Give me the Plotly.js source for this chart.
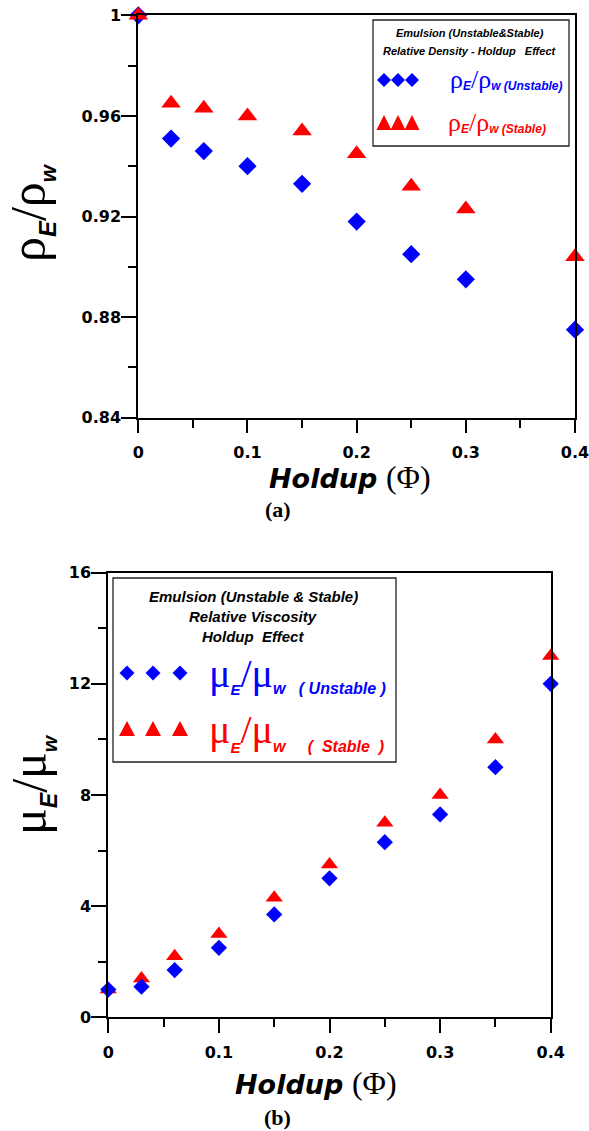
<!DOCTYPE html>
<html>
<head>
<meta charset="utf-8">
<script src="https://cdn.plot.ly/plotly-3.0.1.min.js"></script>
<style>html,body{margin:0;padding:0;background:#fff;}</style>
</head>
<body>
<div id="chart" style="width:589px;height:1131px;"></div>
<script>
// ---------- data ----------
const holdupDensity = [0, 0.03, 0.06, 0.1, 0.15, 0.2, 0.25, 0.3, 0.4];
const densityUnstable = [1.0, 0.951, 0.946, 0.940, 0.933, 0.918, 0.905, 0.895, 0.875];
const densityStable = [1.0, 0.965, 0.963, 0.960, 0.954, 0.945, 0.932, 0.923, 0.904];

const holdupViscosity = [0, 0.03, 0.06, 0.1, 0.15, 0.2, 0.25, 0.3, 0.35, 0.4];
const viscosityUnstable = [1.0, 1.1, 1.7, 2.5, 3.7, 5.0, 6.3, 7.3, 9.0, 12.0];
const viscosityStable = [1.0, 1.4, 2.2, 3.0, 4.3, 5.5, 7.0, 8.0, 10.0, 13.0];

const xTickVals = [0, 0.1, 0.2, 0.3, 0.4];
const xTickText = ['0', '0.1', '0.2', '0.3', '0.4'];
const xMinorVals = [0.05, 0.15, 0.25, 0.35];
const densityTickVals = [0.84, 0.88, 0.92, 0.96, 1];
const densityTickText = ['0.84', '0.88', '0.92', '0.96', '1'];
const densityMinorVals = [0.86, 0.90, 0.94, 0.98];
const viscosityTickVals = [0, 4, 8, 12, 16];
const viscosityTickText = ['0', '4', '8', '12', '16'];
const viscosityMinorVals = [2, 6, 10, 14];

// ---------- helpers ----------
const W = 589, H = 1131;
const px = x => x / W;
const py = y => 1 - y / H;
const BLUE = '#0000FF', RED = '#FF0000';
const EPS = 1e-6;

function axisBase(extra) {
  return Object.assign({
    showline: true, linewidth: 2, linecolor: '#000', mirror: true,
    showgrid: false, zeroline: false,
    ticks: 'outside', tickwidth: 2, tickcolor: '#000',
    tickfont: {family: 'DejaVu Sans', size: 16, color: '#000', weight: 'bold'},
    tickmode: 'array', fixedrange: true, ticklabeloverflow: 'allow'
  }, extra);
}
const minorTicks = vals => ({tickmode: 'array', tickvals: vals, ticks: 'outside', ticklen: 8, tickwidth: 2, tickcolor: '#000'});

const traces = [
  {x: holdupDensity, y: densityUnstable, xaxis: 'x', yaxis: 'y', type: 'scatter', mode: 'markers',
   name: 'ρE/ρw (Unstable)', cliponaxis: false,
   marker: {symbol: 'diamond', size: 14, color: BLUE}},
  {x: holdupDensity, y: densityStable, xaxis: 'x', yaxis: 'y', type: 'scatter', mode: 'markers',
   name: 'ρE/ρw (Stable)', cliponaxis: false,
   marker: {symbol: 'triangle-up', size: 17, color: RED}},
  {x: holdupViscosity, y: viscosityStable, xaxis: 'x2', yaxis: 'y2', type: 'scatter', mode: 'markers',
   name: 'μE/μw (Stable)', cliponaxis: false,
   marker: {symbol: 'triangle-up', size: 15, color: RED}},
  {x: holdupViscosity, y: viscosityUnstable, xaxis: 'x2', yaxis: 'y2', type: 'scatter', mode: 'markers',
   name: 'μE/μw (Unstable)', cliponaxis: false,
   marker: {symbol: 'diamond', size: 12.5, color: BLUE}}
];

// legend marker shapes (paper coordinates from pixel positions)
function diamondPath(cx, cy, h) {
  return 'M' + px(cx - h) + ',' + py(cy) + ' L' + px(cx) + ',' + py(cy - h) + ' L' + px(cx + h) + ',' + py(cy) +
         ' L' + px(cx) + ',' + py(cy + h) + ' Z';
}
function trianglePath(cx, cy, hw, up, down) {
  return 'M' + px(cx) + ',' + py(cy - up) + ' L' + px(cx + hw) + ',' + py(cy + down) + ' L' + px(cx - hw) + ',' + py(cy + down) + ' Z';
}
const shapes = [];
function rectPx(x0, y0, x1, y1) {
  shapes.push({type: 'rect', xref: 'paper', yref: 'paper', x0: px(x0), x1: px(x1), y0: py(y1), y1: py(y0),
               line: {color: '#222', width: 1.3}, fillcolor: '#fff', layer: 'above'});
}
rectPx(373, 20, 569, 146);
rectPx(113, 578, 396, 762);
[384, 398, 412].forEach(cx => {
  shapes.push({type: 'path', xref: 'paper', yref: 'paper', path: diamondPath(cx, 80, 7), fillcolor: BLUE, line: {width: 0}});
  shapes.push({type: 'path', xref: 'paper', yref: 'paper', path: trianglePath(cx, 125, 7.5, 10, 5), fillcolor: RED, line: {width: 0}});
});
[127, 153, 180].forEach(cx => {
  shapes.push({type: 'path', xref: 'paper', yref: 'paper', path: diamondPath(cx, 673, 7.5), fillcolor: BLUE, line: {width: 0}});
  shapes.push({type: 'path', xref: 'paper', yref: 'paper', path: trianglePath(cx, 731, 8, 10, 5), fillcolor: RED, line: {width: 0}});
});

const SANS_BI = 'font-family:Liberation Sans;font-weight:bold;font-style:italic';
const low = (txt, size, shift) => '<span style="' + SANS_BI + ';font-size:' + size + 'px;baseline-shift:-' + shift + 'px">' + txt + '</span>';
const annotations = [];
function ann(text, x, y, o) {
  annotations.push(Object.assign({
    text: text, x: px(x), y: py(y), xref: 'paper', yref: 'paper', showarrow: false,
    xanchor: 'center', yanchor: 'middle'
  }, o || {}));
}
const legTitleFont = s => ({family: 'Liberation Sans', size: s, color: '#000', weight: 'bold', style: 'italic'});

// top legend
ann('Emulsion (Unstable&amp;Stable)', 470, 33, {font: legTitleFont(11)});
ann('Relative Density - Holdup\u00a0\u00a0\u00a0Effect', 470, 51, {font: legTitleFont(11)});
ann('ρ' + low('E', 12, 2) + '/ρ' + low('w (Unstable)', 12, 2),
    448, 80, {xanchor: 'left', font: {family: 'Liberation Serif', size: 26, color: BLUE}});
ann('ρ' + low('E', 12, 2) + '/ρ' + low('w (Stable)', 12, 2),
    446, 123, {xanchor: 'left', font: {family: 'Liberation Serif', size: 26, color: RED}});

// bottom legend
ann('Emulsion (Unstable &amp; Stable)', 253, 596, {font: legTitleFont(15)});
ann('Relative Viscosity', 253, 616, {font: legTitleFont(15)});
ann('Holdup\u00a0\u00a0Effect', 253, 636, {font: legTitleFont(15)});
ann('μ' + low('E', 15, 8) + '/μ' + low('w\u00a0\u00a0\u00a0( Unstable )', 16, 7),
    207, 674, {xanchor: 'left', font: {family: 'Liberation Serif', size: 40, color: BLUE}});
ann('μ' + low('E', 15, 10) + '/μ' + low('w\u00a0\u00a0\u00a0\u00a0\u00a0(\u00a0\u00a0Stable\u00a0\u00a0)', 16, 9),
    207, 731, {xanchor: 'left', font: {family: 'Liberation Serif', size: 40, color: RED}});

// axis titles
const xTitle = '<b><i>Holdup</i></b> <span style="font-family:Liberation Serif;font-size:32px">(Φ)</span>';
ann(xTitle, 267, 477, {xanchor: 'left', font: {family: 'DejaVu Sans', size: 27, color: '#000'}});
ann(xTitle, 233, 1083, {xanchor: 'left', font: {family: 'DejaVu Sans', size: 27, color: '#000'}});
ann('ρ' + low('E', 24, 11) + '/ρ' + low('w', 22, 11),
    31, 213, {textangle: -90, font: {family: 'Liberation Serif', size: 50, color: '#000'}});
ann('μ' + low('E', 23, 11) + '/μ' + low('w', 21, 11),
    31, 785, {textangle: -90, font: {family: 'Liberation Serif', size: 50, color: '#000'}});
ann('(a)', 278, 509, {font: {family: 'Liberation Serif', size: 22, color: '#000', weight: 'bold'}});
ann('(b)', 277, 1117, {font: {family: 'Liberation Serif', size: 22, color: '#000', weight: 'bold'}});

const layout = {
  width: W, height: H,
  margin: {l: 0, r: 0, t: 0, b: 0},
  paper_bgcolor: '#fff', plot_bgcolor: '#fff',
  showlegend: false,
  xaxis: axisBase({domain: [px(138.3), px(575)], anchor: 'y', range: [-EPS, 0.4 + EPS],
    tickvals: xTickVals, ticktext: xTickText, ticklen: 13, ticklabelstandoff: 6,
    minor: minorTicks(xMinorVals)}),
  yaxis: axisBase({domain: [py(417.7), py(15.3)], anchor: 'x', range: [0.84 - EPS, 1.0 + EPS],
    tickvals: densityTickVals, ticktext: densityTickText, ticklen: 15, ticklabelstandoff: -3,
    minor: minorTicks(densityMinorVals)}),
  xaxis2: axisBase({domain: [px(108.3), px(550.7)], anchor: 'y2', range: [-EPS, 0.4 + EPS],
    tickvals: xTickVals, ticktext: xTickText, ticklen: 14, ticklabelstandoff: 5,
    minor: minorTicks(xMinorVals)}),
  yaxis2: axisBase({domain: [py(1017.3), py(572.7)], anchor: 'x2', range: [-0.0001, 16.0001],
    tickvals: viscosityTickVals, ticktext: viscosityTickText, ticklen: 15, ticklabelstandoff: -3,
    minor: minorTicks(viscosityMinorVals)}),
  shapes: shapes,
  annotations: annotations
};

Plotly.newPlot('chart', traces, layout, {staticPlot: true, displayModeBar: false});
</script>
</body>
</html>
